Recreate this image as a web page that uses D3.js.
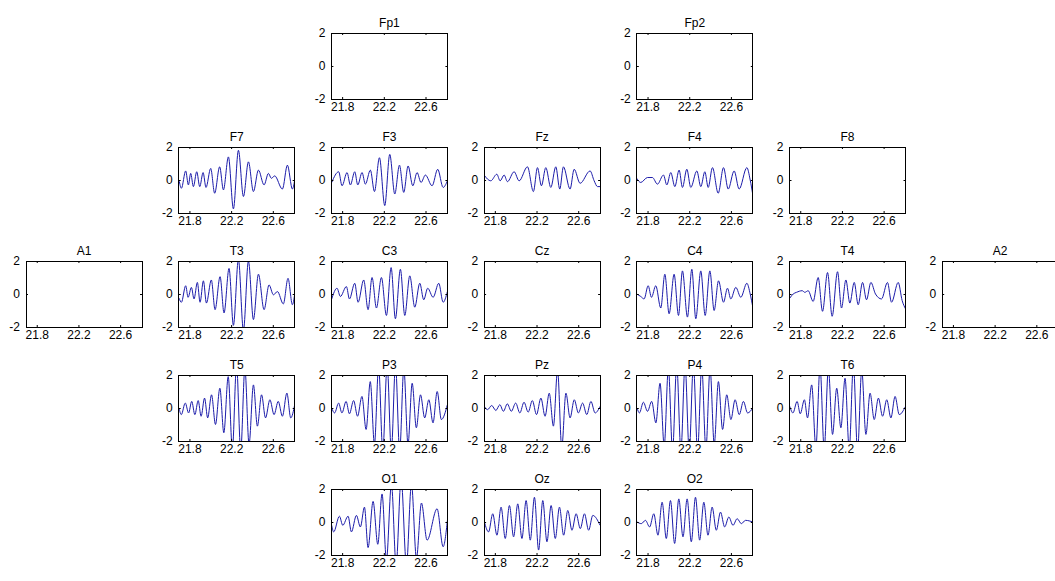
<!DOCTYPE html>
<html>
<head>
<meta charset="utf-8">
<script src="https://cdn.jsdelivr.net/npm/d3@7"></script>
<style>
  body { margin: 0; background: #fff; }
  svg { display: block; font-family: "Liberation Sans", Arial, sans-serif; }
</style>
</head>
<body>
<svg id="eeg" width="1055" height="581"></svg>
<script>
// electrode names, in drawing order
var channels = ["Fp1", "Fp2", "F7", "F3", "Fz", "F4", "F8", "A1", "T3", "C3", "Cz", "C4", "T4", "A2", "T5", "P3", "Pz", "P4", "T6", "O1", "Oz", "O2"];

var xTicks = [21.8, 22.2, 22.6];
var yTicks = [-2, 0, 2];

// extrema: [time (s), amplitude]
var sigF7 = [[21.700, 0], [21.723, -0.5], [21.764, 0.55], [21.790, -0.3], [21.812, 0.4], [21.838, -0.4], [21.870, 0.5], [21.899, -0.4], [21.931, 0.45], [21.959, -0.45], [22.004, 0.7], [22.042, -0.8], [22.090, 0.8], [22.126, -0.6], [22.174, 1.4], [22.222, -1.75], [22.270, 1.8], [22.318, -1.0], [22.366, 1.1], [22.414, -0.7], [22.462, 0.6], [22.516, -0.3], [22.558, 0.4], [22.586, 0.1], [22.618, 0.25], [22.692, -0.55], [22.740, 0.9], [22.788, -0.55], [22.810, 0]];
var sigF3 = [[21.700, -0.15], [21.767, 0.5], [21.799, -0.35], [21.847, 0.45], [21.879, -0.3], [21.921, 0.5], [21.950, -0.3], [21.991, 0.45], [22.023, -0.25], [22.071, 0.6], [22.110, -0.7], [22.158, 1.35], [22.209, -1.55], [22.257, 1.55], [22.305, -0.85], [22.350, 0.9], [22.391, -0.75], [22.433, 0.85], [22.478, -0.35], [22.519, 0.45], [22.557, -0.15], [22.599, 0.3], [22.663, -0.35], [22.717, 0.65], [22.769, -0.45], [22.810, -0.05]];
var sigFz = [[21.697, 0.3], [21.761, -0.05], [21.819, 0.35], [21.851, -0.05], [21.889, 0.3], [21.921, -0.1], [21.985, 0.5], [22.033, -0.05], [22.113, 0.8], [22.170, -0.7], [22.209, 0.75], [22.247, -0.35], [22.289, 0.75], [22.337, -0.45], [22.385, 0.8], [22.423, -0.55], [22.458, 0.8], [22.522, -0.55], [22.561, 0.65], [22.618, -0.2], [22.714, 0.55], [22.753, -0.05], [22.785, -0.4], [22.810, -0.4]];
var sigF4 = [[21.697, 0.1], [21.735, -0.15], [21.799, 0.15], [21.847, 0.15], [21.895, -0.25], [21.953, 0.3], [21.985, -0.3], [22.023, 0.45], [22.062, -0.4], [22.103, 0.6], [22.135, -0.45], [22.177, 0.65], [22.215, -0.45], [22.273, 0.55], [22.311, -0.4], [22.350, 0.5], [22.382, -0.45], [22.423, 0.75], [22.478, -0.8], [22.529, 0.75], [22.574, -0.55], [22.631, 0.55], [22.679, -0.55], [22.753, 0.75], [22.785, 0], [22.810, -0.9]];
var sigT3 = [[21.700, -0.25], [21.723, -0.5], [21.764, 0.5], [21.787, -0.2], [21.819, 0.4], [21.844, -0.3], [21.876, 0.7], [21.902, -0.5], [21.934, 0.8], [21.963, -0.55], [22.010, 0.85], [22.046, -0.95], [22.094, 1.05], [22.132, -1.15], [22.180, 1.55], [22.222, -1.9], [22.270, 2.1], [22.318, -2.2], [22.366, 2.0], [22.414, -1.55], [22.462, 1.2], [22.516, -0.95], [22.564, 0.55], [22.606, -0.05], [22.644, 0.15], [22.701, -0.6], [22.746, 0.95], [22.788, -0.65], [22.810, 0]];
var sigC3 = [[21.700, -0.3], [21.751, 0.35], [21.783, -0.15], [21.841, 0.45], [21.870, -0.3], [21.921, 0.65], [21.953, -0.5], [22.007, 0.85], [22.049, -0.95], [22.087, 1.0], [22.129, -0.85], [22.177, 1.0], [22.225, -1.3], [22.270, 1.6], [22.311, -1.5], [22.359, 1.5], [22.401, -1.3], [22.449, 1.1], [22.497, -0.8], [22.545, 0.65], [22.583, -0.35], [22.621, 0.35], [22.673, -0.2], [22.727, 0.65], [22.769, -0.5], [22.810, 0.15]];
var sigC4 = [[21.697, 0], [21.735, -0.15], [21.767, -0.3], [21.806, 0.5], [21.838, -0.2], [21.879, 0.5], [21.927, -0.85], [21.966, 1.2], [22.007, -1.2], [22.055, 1.2], [22.097, -1.3], [22.135, 1.4], [22.183, -1.4], [22.225, 1.5], [22.263, -1.5], [22.311, 1.4], [22.353, -1.3], [22.398, 1.4], [22.439, -1.0], [22.481, 0.8], [22.529, -0.5], [22.567, 0.35], [22.599, -0.3], [22.647, 0.4], [22.695, -0.2], [22.753, 0.65], [22.785, 0], [22.810, -0.8]];
var sigT4 = [[21.700, -0.25], [21.732, 0], [21.764, 0.1], [21.819, 0.2], [21.844, 0.1], [21.876, 0.2], [21.924, -0.45], [21.972, 1.0], [22.014, -1.05], [22.062, 1.3], [22.106, -1.35], [22.158, 1.35], [22.196, -0.85], [22.238, 0.85], [22.276, -0.55], [22.318, 0.7], [22.356, -0.65], [22.398, 0.7], [22.436, -0.35], [22.478, 0.7], [22.522, 0], [22.580, -0.3], [22.637, 0.7], [22.676, -0.5], [22.740, 0.7], [22.778, -0.4], [22.810, -0.9]];
var sigT5 = [[21.700, 0], [21.722, -0.4], [21.760, 0.3], [21.792, -0.3], [21.822, 0.4], [21.852, -0.4], [21.884, 0.45], [21.912, -0.5], [21.945, 0.6], [21.975, -0.6], [22.012, 0.8], [22.050, -1.0], [22.092, 1.2], [22.130, -1.5], [22.172, 1.9], [22.212, -2.5], [22.252, 2.6], [22.292, -2.6], [22.332, 2.4], [22.372, -2.2], [22.414, 1.4], [22.452, -1.1], [22.492, 0.8], [22.530, -0.6], [22.572, 0.5], [22.612, -0.4], [22.652, 0.4], [22.692, -0.5], [22.735, 0.9], [22.772, -0.6], [22.810, 0.2]];
var sigP3 = [[21.700, 0], [21.728, -0.3], [21.766, 0.3], [21.798, -0.3], [21.838, 0.4], [21.870, -0.35], [21.910, 0.45], [21.948, -0.5], [21.990, 0.7], [22.030, -1.3], [22.070, 1.6], [22.110, -2.2], [22.150, 2.5], [22.190, -2.6], [22.232, 2.6], [22.272, -2.6], [22.312, 2.6], [22.352, -2.6], [22.392, 2.4], [22.432, -2.2], [22.472, 1.5], [22.512, -1.2], [22.552, 0.8], [22.592, -0.6], [22.632, 0.5], [22.672, -0.9], [22.712, 1.0], [22.752, -0.7], [22.810, 0.2]];
var sigPz = [[21.700, 0.1], [21.730, -0.1], [21.770, 0.15], [21.810, -0.15], [21.848, 0.2], [21.882, -0.2], [21.920, 0.25], [21.958, -0.2], [22.000, 0.3], [22.040, -0.3], [22.080, 0.35], [22.120, -0.25], [22.160, 0.45], [22.200, -0.4], [22.242, 0.6], [22.282, -0.5], [22.322, 0.9], [22.362, -1.1], [22.402, 2.3], [22.442, -2.4], [22.482, 0.9], [22.522, -0.6], [22.562, 0.5], [22.602, -0.3], [22.642, 0.3], [22.682, -0.4], [22.722, 0.4], [22.762, -0.3], [22.810, 0.1]];
var sigP4 = [[21.700, 0], [21.722, -0.3], [21.760, 0.35], [21.800, -0.2], [21.840, 0.4], [21.880, -0.9], [21.920, 1.5], [21.960, -2.3], [22.000, 2.4], [22.040, -2.6], [22.080, 2.6], [22.120, -2.6], [22.160, 2.6], [22.200, -2.6], [22.240, 2.6], [22.280, -2.6], [22.320, 2.5], [22.360, -2.5], [22.400, 2.4], [22.440, -2.2], [22.480, 1.6], [22.520, -1.3], [22.560, 0.8], [22.600, -0.7], [22.640, 0.5], [22.680, -0.4], [22.720, 0.4], [22.760, -0.3], [22.810, 0]];
var sigT6 = [[21.700, 0.1], [21.730, -0.3], [21.770, 0.4], [21.800, -0.35], [21.840, 0.5], [21.870, -0.6], [21.910, 1.4], [21.950, -2.4], [21.990, 2.5], [22.030, -2.5], [22.070, 2.4], [22.110, -1.6], [22.150, 1.2], [22.190, -1.2], [22.230, 1.8], [22.270, -2.5], [22.310, 2.6], [22.350, -2.6], [22.390, 2.3], [22.430, -1.6], [22.470, 0.9], [22.510, -0.7], [22.550, 0.6], [22.590, -0.5], [22.630, 0.5], [22.670, -0.6], [22.710, 0.7], [22.750, -0.4], [22.810, 0.1]];
var sigO1 = [[21.700, -0.2], [21.719, -0.6], [21.774, 0.35], [21.806, -0.2], [21.857, 0.35], [21.889, -0.6], [21.937, 0.4], [21.975, -0.3], [22.014, 0.9], [22.049, -1.55], [22.097, 1.25], [22.142, -1.35], [22.183, 1.7], [22.225, -2.3], [22.273, 2.3], [22.318, -2.6], [22.366, 2.6], [22.417, -2.6], [22.465, 2.3], [22.513, -2.2], [22.561, 1.15], [22.615, -1.1], [22.711, 0.8], [22.769, -1.5], [22.810, 0.1]];
var sigOz = [[21.700, 0], [21.740, -0.6], [21.780, 0.5], [21.820, -0.8], [21.860, 0.9], [21.900, -1.0], [21.940, 1.0], [21.980, -0.9], [22.020, 1.1], [22.060, -1.0], [22.100, 1.3], [22.140, -1.1], [22.180, 1.5], [22.220, -1.7], [22.260, 1.3], [22.300, -1.2], [22.340, 1.0], [22.380, -1.0], [22.420, 0.9], [22.460, -0.8], [22.500, 0.7], [22.540, -0.5], [22.580, 0.5], [22.620, -0.4], [22.660, 0.5], [22.700, -0.5], [22.740, 0.4], [22.810, -0.2]];
var sigO2 = [[21.700, 0], [21.740, -0.1], [21.780, 0.1], [21.820, -0.3], [21.860, 0.5], [21.900, -0.8], [21.940, 1.2], [21.980, -1.0], [22.020, 1.3], [22.060, -1.3], [22.100, 1.4], [22.140, -0.9], [22.180, 1.4], [22.220, -1.2], [22.260, 1.5], [22.300, -1.1], [22.340, 1.2], [22.380, -0.8], [22.420, 0.9], [22.460, -0.5], [22.500, 0.6], [22.540, -0.3], [22.580, 0.3], [22.620, -0.2], [22.660, 0.2], [22.700, -0.1], [22.740, 0.1], [22.810, 0]];

// Fp1, Fp2, F8, A1, Cz, A2 have no trace
var signals = {
	F7: sigF7, F3: sigF3, Fz: sigFz, F4: sigF4,
	T3: sigT3, C3: sigC3, C4: sigC4, T4: sigT4,
	T5: sigT5, P3: sigP3, Pz: sigPz, P4: sigP4, T6: sigT6,
	O1: sigO1, Oz: sigOz, O2: sigO2
};

// head layout: column / row slot of every electrode
var slot = {
	Fp1: [2, 0], Fp2: [4, 0],
	F7: [1, 1], F3: [2, 1], Fz: [3, 1], F4: [4, 1], F8: [5, 1],
	A1: [0, 2], T3: [1, 2], C3: [2, 2], Cz: [3, 2], C4: [4, 2], T4: [5, 2], A2: [6, 2],
	T5: [1, 3], P3: [2, 3], Pz: [3, 3], P4: [4, 3], T6: [5, 3],
	O1: [2, 4], Oz: [3, 4], O2: [4, 4]
};

var boxW = 116, boxH = 66;
var colX = d3.scaleLinear().domain([0, 1]).range([26, 178.7]);
var rowY = d3.scaleLinear().domain([0, 1]).range([33, 147]);

var x = d3.scaleLinear().domain([21.697, 22.81]).range([0, boxW]);
var y = d3.scaleLinear().domain([-2, 2]).range([boxH, 0]);

var svg = d3.select("#eeg");

var line = d3.line()
	.x(d => x(d[0]))
	.y(d => y(d[1]))
	.curve(d3.curveMonotoneX);

channels.forEach(function (name, i) {
	var g = svg.append("g")
		.attr("transform", "translate(" + colX(slot[name][0]) + "," + rowY(slot[name][1]) + ")");

	g.append("clipPath").attr("id", "clip" + i)
		.append("rect").attr("width", boxW).attr("height", boxH);

	if (signals[name]) {
		g.append("path")
			.datum(signals[name])
			.attr("clip-path", "url(#clip" + i + ")")
			.attr("fill", "none")
			.attr("stroke", "#1c1caa")
			.attr("stroke-width", 1)
			.attr("d", line);
	}

	// matlab style: ticks inward on all four sides, plain hyphen minus
	var xb = g.append("g").attr("transform", "translate(0," + boxH + ")")
		.call(d3.axisBottom(x).tickValues(xTicks).tickSize(-2).tickPadding(5).tickFormat(d => d.toFixed(1)));
	var xt = g.append("g")
		.call(d3.axisTop(x).tickValues(xTicks).tickSize(-2).tickFormat(""));
	var yl = g.append("g")
		.call(d3.axisLeft(y).tickValues(yTicks).tickSize(-2).tickPadding(6).tickFormat(d => String(d)));
	var yr = g.append("g").attr("transform", "translate(" + boxW + ",0)")
		.call(d3.axisRight(y).tickValues(yTicks).tickSize(-2).tickFormat(""));

	[xb, xt, yl, yr].forEach(function (a) {
		a.select(".domain").remove();
		a.selectAll("line").attr("stroke", "#000");
		a.selectAll("text").attr("fill", "#000").style("font-size", "12px").style("font-family", "Liberation Sans, Arial, sans-serif");
	});
	xb.selectAll("text").attr("dy", "0.6em");

	g.append("rect")
		.attr("width", boxW).attr("height", boxH)
		.attr("fill", "none").attr("stroke", "#000").attr("stroke-width", 1)
		.attr("shape-rendering", "crispEdges");

	g.append("text")
		.attr("x", boxW / 2).attr("y", -6)
		.attr("text-anchor", "middle")
		.style("font-size", "12px")
		.text(name);
});
</script>
</body>
</html>
